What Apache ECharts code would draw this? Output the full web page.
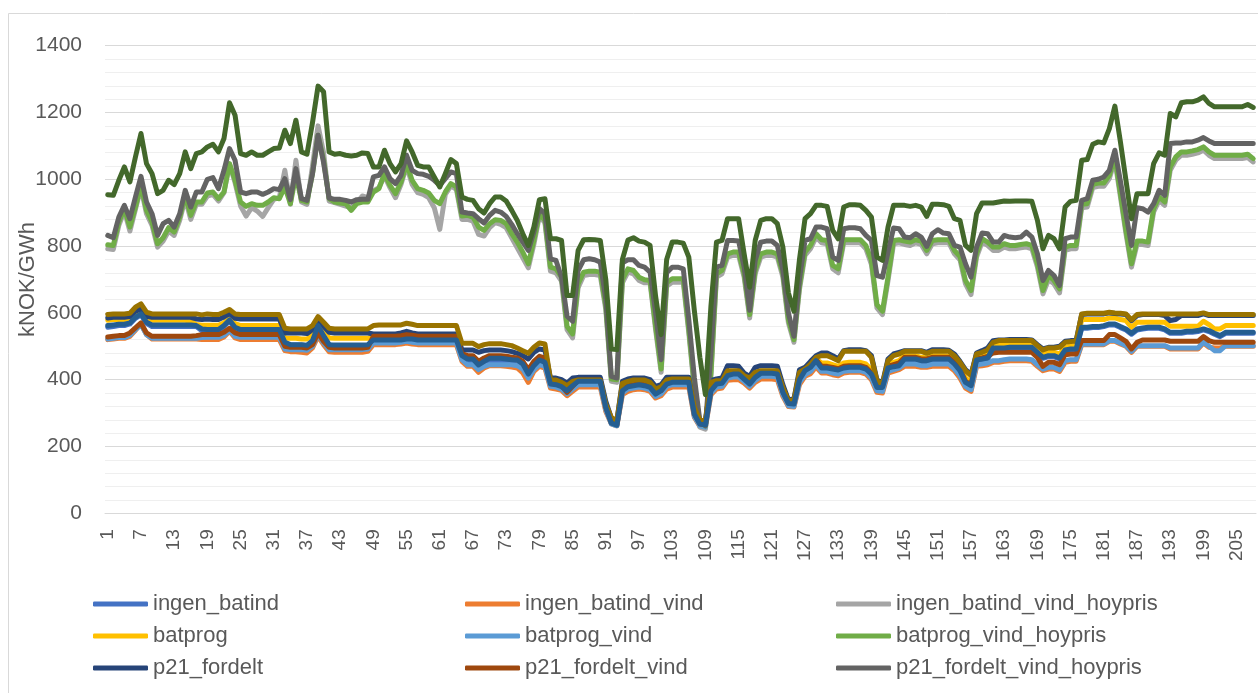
<!DOCTYPE html>
<html>
<head>
<meta charset="utf-8">
<title>kNOK/GWh</title>
<script src="https://cdn.jsdelivr.net/npm/echarts@6/dist/echarts.min.js"></script>
<style>
  html, body { margin: 0; padding: 0; background: #ffffff; }
  #chart { width: 1258px; height: 693px; }
</style>
</head>
<body>
<div id="chart"></div>
<script>
// Hour/period index 1..208
const categories = Array.from({ length: 208 }, (_, i) => String(i + 1));

const yTicks = [0, 200, 400, 600, 800, 1000, 1200, 1400];

const ingen_batind = [
  557, 559, 562, 562, 567, 584, 594, 569, 559, 559,
  559, 559, 559, 559, 559, 559, 559, 547, 544, 544,
  544, 559, 576, 554, 544, 544, 544, 544, 544, 544,
  544, 544, 509, 504, 504, 504, 502, 514, 559, 529,
  504, 502, 502, 502, 502, 502, 502, 502, 514, 514,
  514, 514, 514, 514, 519, 519, 516, 516, 516, 516,
  516, 516, 516, 516, 469, 454, 454, 439, 449, 456,
  456, 456, 456, 456, 456, 444, 414, 439, 456, 449,
  384, 382, 376, 364, 379, 392, 392, 392, 392, 392,
  314, 269, 264, 364, 376, 379, 382, 379, 374, 354,
  364, 384, 389, 389, 389, 389, 294, 264, 262, 364,
  384, 386, 409, 414, 414, 399, 384, 404, 416, 416,
  416, 414, 359, 326, 324, 397, 424, 434, 454, 432,
  432, 429, 426, 432, 434, 434, 434, 429, 414, 374,
  374, 432, 436, 439, 459, 459, 459, 454, 454, 459,
  459, 459, 459, 444, 424, 389, 379, 456, 459, 462,
  492, 492, 492, 494, 494, 494, 494, 494, 479, 464,
  469, 469, 462, 486, 489, 489, 554, 554, 556, 556,
  559, 564, 564, 556, 549, 536, 549, 552, 554, 554,
  554, 549, 539, 539, 539, 542, 542, 544, 549, 544,
  536, 529, 539, 539, 539, 539, 539, 539
];

const ingen_batind_vind = [
  520, 522, 524, 524, 530, 548, 568, 535, 522, 522,
  522, 522, 522, 522, 522, 522, 522, 520, 520, 520,
  520, 528, 545, 525, 520, 520, 520, 520, 520, 520,
  520, 520, 487, 484, 484, 482, 480, 495, 530, 505,
  484, 482, 482, 482, 482, 482, 482, 485, 505, 505,
  505, 505, 505, 507, 510, 507, 505, 505, 505, 505,
  505, 505, 505, 505, 455, 440, 440, 422, 435, 442,
  442, 442, 440, 438, 435, 420, 392, 425, 440, 435,
  375, 372, 368, 352, 365, 378, 378, 378, 378, 378,
  305, 268, 262, 355, 365, 370, 372, 370, 365, 345,
  352, 372, 378, 378, 378, 378, 288, 260, 258, 355,
  372, 375, 398, 400, 400, 390, 375, 392, 402, 402,
  402, 400, 350, 320, 318, 385, 410, 418, 438, 420,
  420, 415, 412, 420, 422, 422, 422, 417, 400, 362,
  360, 420, 425, 430, 440, 440, 440, 437, 437, 440,
  440, 440, 440, 427, 405, 375, 365, 440, 442, 445,
  452, 452, 455, 457, 457, 457, 457, 455, 440, 427,
  432, 432, 425, 452, 455, 455, 505, 505, 505, 505,
  505, 515, 515, 507, 500, 482, 500, 500, 500, 500,
  500, 500, 492, 492, 492, 492, 492, 492, 510, 497,
  495, 495, 500, 500, 500, 500, 500, 500
];

const ingen_batind_vind_hoypris = [
  792, 790, 862, 905, 845, 910, 975, 897, 862, 797,
  815, 845, 832, 877, 942, 880, 925, 925, 950, 955,
  935, 960, 1045, 990, 920, 890, 915, 905, 889, 915,
  940, 945, 1027, 925, 1057, 932, 925, 1040, 1160, 1080,
  935, 930, 925, 920, 915, 930, 950, 945, 965, 975,
  1010, 975, 945, 985, 1040, 985, 960, 955, 945, 915,
  850, 955, 980, 970, 880, 880, 875, 835, 830, 855,
  870, 865, 855, 825, 795, 765, 735, 805, 890, 870,
  725, 720, 695, 550, 525, 675, 712, 715, 715, 712,
  610, 395, 392, 690, 722, 717, 697, 690, 690, 550,
  422, 680, 692, 692, 692, 540, 370, 258, 252, 410,
  707, 717, 767, 772, 772, 707, 585, 717, 767, 772,
  772, 767, 707, 570, 512, 670, 772, 792, 827, 810,
  807, 732, 720, 810, 810, 810, 810, 792, 745, 615,
  595, 697, 807, 810, 805, 802, 810, 805, 777, 807,
  810, 810, 810, 777, 759, 687, 655, 767, 812, 802,
  787, 787, 797, 792, 792, 795, 797, 792, 737, 657,
  700, 687, 660, 787, 792, 792, 915, 917, 975, 979,
  979, 1002, 1057, 947, 837, 737, 805, 805, 802, 902,
  937, 922, 1027, 1057, 1072, 1072, 1075, 1079, 1087, 1072,
  1062, 1062, 1062, 1062, 1062, 1062, 1065, 1052
];

const batprog = [
  578, 580, 580, 580, 583, 600, 610, 585, 578, 578,
  578, 578, 578, 578, 578, 575, 565, 563, 563, 563,
  563, 570, 587, 568, 562, 562, 562, 562, 562, 562,
  562, 562, 524, 524, 524, 522, 522, 532, 570, 545,
  525, 524, 524, 524, 524, 524, 524, 524, 527, 527,
  527, 527, 527, 527, 530, 527, 525, 525, 525, 525,
  525, 525, 525, 525, 475, 465, 465, 447, 460, 467,
  467, 467, 465, 462, 460, 452, 425, 450, 467, 462,
  392, 392, 385, 372, 388, 398, 398, 398, 398, 398,
  322, 280, 272, 372, 385, 390, 392, 390, 385, 365,
  372, 392, 397, 397, 397, 397, 305, 275, 272, 375,
  392, 395, 420, 422, 422, 407, 395, 412, 425, 425,
  425, 422, 370, 335, 335, 410, 430, 442, 462, 450,
  450, 445, 440, 450, 452, 452, 452, 447, 430, 385,
  382, 447, 452, 457, 472, 472, 472, 467, 465, 472,
  472, 472, 470, 460, 440, 405, 392, 467, 472, 477,
  505, 505, 505, 507, 507, 507, 507, 507, 492, 477,
  482, 482, 477, 497, 500, 500, 580, 580, 580, 580,
  580, 585, 585, 580, 577, 557, 572, 572, 572, 572,
  572, 572, 560, 560, 560, 560, 560, 560, 575, 565,
  552, 552, 562, 562, 562, 562, 562, 562
];

const batprog_vind = [
  522, 524, 526, 526, 533, 550, 565, 535, 524, 524,
  524, 524, 524, 524, 524, 524, 524, 526, 527, 527,
  527, 533, 547, 530, 527, 527, 527, 527, 527, 527,
  527, 527, 492, 490, 490, 490, 488, 500, 535, 510,
  490, 490, 490, 490, 490, 490, 490, 492, 510, 510,
  510, 510, 510, 512, 515, 512, 510, 510, 510, 510,
  510, 510, 510, 510, 460, 445, 445, 430, 440, 445,
  445, 445, 445, 445, 442, 432, 405, 430, 445, 440,
  380, 378, 372, 358, 372, 385, 385, 385, 385, 385,
  310, 268, 262, 360, 372, 375, 378, 375, 370, 350,
  358, 380, 385, 385, 385, 385, 290, 262, 258, 360,
  378, 380, 405, 408, 408, 395, 380, 398, 410, 410,
  410, 408, 355, 322, 320, 392, 415, 425, 445, 425,
  425, 420, 417, 425, 427, 427, 427, 422, 405, 367,
  365, 425, 430, 435, 447, 447, 447, 442, 442, 447,
  447, 447, 447, 432, 412, 380, 370, 445, 447, 450,
  457, 457, 460, 462, 462, 462, 462, 460, 445, 432,
  437, 437, 430, 457, 460, 460, 507, 507, 507, 507,
  507, 517, 517, 510, 502, 485, 502, 502, 502, 502,
  502, 502, 495, 495, 495, 495, 495, 495, 512, 500,
  487, 487, 502, 502, 502, 502, 502, 502
];

const batprog_vind_hoypris = [
  804, 802, 872, 912, 857, 917, 982, 907, 872, 807,
  825, 855, 842, 887, 952, 892, 932, 932, 959, 962,
  942, 962, 1047, 997, 932, 919, 927, 922, 922, 932,
  945, 942, 977, 927, 1012, 937, 932, 1017, 1132, 1057,
  942, 932, 929, 927, 907, 927, 932, 932, 962, 972,
  1017, 982, 957, 992, 1047, 997, 972, 967, 959, 937,
  927, 962, 987, 977, 890, 892, 887, 857, 847, 867,
  879, 877, 867, 837, 812, 782, 747, 817, 897, 877,
  737, 732, 707, 560, 537, 687, 722, 725, 725, 722,
  620, 402, 400, 700, 732, 727, 707, 699, 697, 560,
  432, 690, 702, 702, 702, 550, 380, 270, 262, 420,
  717, 727, 777, 782, 782, 717, 595, 727, 777, 782,
  782, 777, 717, 580, 520, 680, 782, 802, 837, 819,
  817, 742, 732, 819, 819, 819, 819, 802, 757, 625,
  605, 707, 817, 819, 815, 812, 819, 815, 787, 817,
  819, 819, 819, 787, 769, 697, 667, 777, 822, 812,
  797, 797, 807, 802, 802, 805, 807, 802, 747, 667,
  712, 697, 672, 797, 802, 802, 925, 927, 985, 989,
  989, 1012, 1067, 957, 847, 747, 815, 815, 812, 912,
  947, 932, 1037, 1067, 1082, 1082, 1085, 1089, 1097, 1082,
  1072, 1072, 1072, 1072, 1072, 1072, 1075, 1062
];

const p21_fordelt = [
  585, 587, 587, 587, 589, 605, 612, 590, 587, 587,
  587, 587, 587, 587, 587, 587, 582, 580, 582, 580,
  580, 588, 598, 584, 582, 582, 582, 582, 582, 582,
  582, 582, 540, 540, 540, 540, 538, 550, 580, 560,
  542, 540, 540, 540, 540, 540, 540, 540, 537, 537,
  537, 537, 537, 540, 545, 540, 537, 537, 537, 537,
  537, 537, 537, 537, 490, 489, 489, 482, 487, 489,
  489, 489, 487, 484, 479, 472, 462, 482, 492, 489,
  405, 405, 400, 390, 405, 407, 407, 407, 407, 407,
  335, 285, 277, 395, 402, 405, 405, 405, 400, 380,
  385, 407, 407, 407, 407, 407, 320, 280, 275, 398,
  402, 405, 442, 442, 440, 420, 410, 437, 442, 442,
  442, 440, 385, 340, 342, 430, 437, 455, 472, 480,
  480, 472, 462, 487, 490, 490, 490, 487, 472, 400,
  390, 462, 477, 482, 487, 487, 487, 487, 482, 490,
  490, 490, 488, 477, 455, 430, 415, 480, 487, 495,
  517, 519, 519, 520, 520, 520, 520, 519, 505, 492,
  497, 497, 500, 515, 517, 517, 595, 597, 597, 597,
  597, 600, 598, 597, 595, 577, 592, 595, 595, 595,
  595, 592, 577, 580, 592, 592, 592, 592, 597, 592,
  592, 592, 592, 592, 592, 592, 592, 592
];

const p21_fordelt_vind = [
  528, 530, 532, 532, 540, 555, 570, 540, 530, 530,
  530, 530, 530, 530, 530, 530, 532, 535, 535, 535,
  535, 542, 554, 540, 535, 535, 535, 535, 535, 535,
  535, 535, 500, 497, 497, 497, 495, 505, 540, 515,
  497, 495, 495, 495, 495, 495, 495, 497, 530, 530,
  530, 530, 530, 532, 535, 533, 530, 530, 530, 530,
  530, 530, 530, 530, 478, 472, 472, 455, 465, 472,
  472, 472, 470, 467, 465, 455, 430, 455, 470, 465,
  392, 390, 382, 362, 380, 398, 398, 398, 398, 398,
  318, 272, 267, 370, 382, 385, 388, 385, 380, 360,
  368, 390, 395, 395, 395, 395, 298, 268, 265, 370,
  390, 392, 420, 420, 420, 405, 390, 410, 422, 422,
  422, 420, 365, 330, 330, 405, 432, 440, 460, 440,
  440, 437, 433, 440, 442, 442, 442, 437, 420, 380,
  380, 440, 445, 450, 467, 467, 467, 462, 462, 467,
  467, 467, 467, 452, 432, 395, 385, 462, 465, 470,
  480, 482, 482, 482, 482, 482, 482, 482, 467, 440,
  452, 452, 445, 475, 477, 477, 517, 517, 517, 517,
  517, 535, 535, 525, 515, 492, 512, 519, 519, 519,
  519, 519, 515, 515, 515, 515, 515, 515, 529, 517,
  512, 512, 512, 512, 512, 512, 512, 512
];

const p21_fordelt_vind_hoypris = [
  832, 825, 887, 922, 882, 947, 1009, 932, 897, 832,
  867, 877, 857, 897, 967, 917, 962, 962, 1000, 1005,
  972, 1027, 1092, 1057, 962, 957, 962, 962, 955, 962,
  972, 969, 1002, 939, 1032, 942, 937, 1017, 1132, 1050,
  944, 940, 940, 937, 932, 939, 940, 940, 1007, 1012,
  1037, 1002, 987, 1012, 1072, 1027, 1017, 1015, 1009, 997,
  982, 1002, 1022, 1017, 902, 899, 897, 882, 869, 892,
  907, 902, 889, 865, 837, 812, 787, 842, 912, 897,
  762, 757, 707, 590, 575, 727, 759, 762, 759, 752,
  640, 410, 405, 750, 759, 759, 742, 737, 722, 600,
  460, 720, 737, 737, 732, 580, 407, 277, 262, 480,
  737, 742, 817, 817, 815, 737, 608, 757, 812, 815,
  815, 802, 727, 600, 530, 700, 817, 822, 857, 857,
  852, 767, 757, 852, 855, 855, 852, 832, 817, 712,
  707, 782, 854, 852, 827, 825, 837, 827, 799, 837,
  849, 839, 837, 802, 797, 747, 707, 797, 839, 837,
  812, 812, 832, 827, 825, 827, 842, 827, 777, 697,
  727, 712, 682, 822, 827, 827, 937, 942, 997, 1000,
  1007, 1027, 1087, 994, 897, 802, 915, 912, 902, 927,
  967, 952, 1107, 1109, 1109, 1112, 1112, 1117, 1125, 1115,
  1107, 1107, 1107, 1107, 1107, 1107, 1107, 1107
];

const alt_base = [
  595, 597, 597, 597, 599, 617, 627, 602, 597, 597,
  597, 597, 597, 597, 597, 597, 597, 594, 597, 595,
  595, 602, 610, 597, 595, 595, 595, 595, 595, 595,
  595, 595, 554, 552, 552, 552, 552, 562, 589, 572,
  554, 552, 552, 552, 552, 552, 552, 552, 562, 564,
  564, 564, 564, 564, 569, 566, 562, 562, 562, 562,
  562, 562, 562, 562, 509, 509, 509, 499, 505, 508,
  508, 508, 505, 502, 495, 487, 479, 497, 510, 507,
  400, 399, 392, 382, 395, 399, 399, 399, 399, 399,
  327, 287, 277, 389, 395, 399, 399, 399, 392, 372,
  379, 399, 402, 402, 402, 402, 317, 279, 277, 392,
  397, 397, 427, 427, 427, 412, 405, 422, 427, 427,
  427, 427, 377, 337, 339, 422, 432, 447, 467, 472,
  472, 465, 457, 485, 485, 485, 485, 485, 467, 397,
  387, 457, 472, 477, 485, 485, 485, 485, 479, 485,
  485, 485, 485, 472, 452, 427, 412, 477, 482, 489,
  512, 517, 517, 517, 517, 517, 517, 517, 502, 489,
  495, 495, 497, 512, 514, 515, 597, 599, 599, 599,
  599, 602, 600, 599, 597, 579, 595, 597, 597, 597,
  597, 597, 597, 597, 597, 597, 597, 597, 600, 595,
  595, 595, 595, 595, 595, 595, 595, 595
];

const alt_vind = [
  562, 564, 566, 566, 570, 587, 597, 572, 564, 564,
  564, 564, 564, 564, 564, 564, 562, 552, 550, 550,
  550, 562, 579, 557, 550, 550, 550, 550, 550, 550,
  550, 550, 512, 505, 505, 505, 503, 517, 562, 532,
  505, 504, 504, 504, 504, 504, 504, 505, 519, 519,
  519, 519, 519, 519, 522, 522, 519, 519, 519, 519,
  519, 519, 519, 519, 472, 462, 462, 444, 455, 464,
  464, 464, 462, 460, 459, 447, 417, 442, 459, 452,
  387, 385, 379, 367, 382, 395, 395, 395, 395, 395,
  317, 270, 264, 367, 379, 382, 385, 382, 377, 357,
  367, 387, 392, 392, 392, 392, 297, 267, 265, 367,
  387, 389, 412, 417, 417, 402, 387, 407, 419, 419,
  419, 417, 362, 329, 327, 400, 427, 437, 457, 435,
  435, 432, 429, 435, 437, 437, 437, 432, 417, 377,
  377, 435, 439, 442, 462, 462, 462, 457, 457, 462,
  462, 462, 462, 447, 427, 392, 382, 459, 462, 465,
  495, 495, 495, 497, 497, 497, 497, 497, 482, 467,
  472, 472, 465, 489, 492, 492, 557, 557, 559, 559,
  562, 567, 567, 559, 552, 539, 552, 555, 557, 557,
  557, 552, 542, 542, 542, 545, 545, 547, 552, 547,
  539, 532, 542, 542, 542, 542, 542, 542
];

const alt_vind_hoypris = [
  954, 952, 997, 1037, 992, 1067, 1137, 1047, 1017, 957,
  967, 997, 984, 1017, 1082, 1032, 1077, 1082, 1097, 1105,
  1082, 1122, 1229, 1192, 1077, 1072, 1082, 1072, 1072, 1082,
  1092, 1094, 1147, 1107, 1177, 1082, 1075, 1170, 1279, 1262,
  1082, 1075, 1077, 1072, 1070, 1072, 1079, 1077, 1037, 1037,
  1087, 1047, 1022, 1047, 1115, 1082, 1042, 1037, 1037, 1007,
  977, 1017, 1059, 1047, 947, 940, 937, 912, 899, 927,
  947, 947, 935, 907, 877, 837, 802, 857, 939, 942,
  822, 822, 817, 652, 652, 787, 819, 820, 819, 817,
  700, 492, 490, 760, 818, 825, 815, 812, 802, 650,
  535, 760, 812, 812, 809, 767, 607, 467, 355, 620,
  812, 817, 882, 882, 882, 777, 677, 817, 877, 882,
  882, 867, 797, 660, 605, 760, 882, 897, 922, 922,
  919, 847, 822, 917, 924, 924, 922, 907, 887, 767,
  757, 857, 922, 922, 922, 919, 922, 917, 889, 925,
  925, 924, 919, 882, 877, 802, 787, 897, 929, 929,
  929, 932, 935, 934, 935, 935, 935, 934, 877, 792,
  832, 822, 792, 917, 934, 937, 1057, 1059, 1105, 1112,
  1109, 1152, 1219, 1112, 997, 882, 957, 957, 957, 1047,
  1079, 1072, 1197, 1187, 1229, 1232, 1232, 1237, 1247, 1227,
  1217, 1217, 1217, 1217, 1217, 1217, 1224, 1215
];

// series in drawing order (later ones paint on top)
const seriesDefs = [
  { name: 'ingen_batind', data: ingen_batind, color: '#4472C4' },
  { name: 'ingen_batind_vind', data: ingen_batind_vind, color: '#ED7D31' },
  { name: 'ingen_batind_vind_hoypris', data: ingen_batind_vind_hoypris, color: '#A5A5A5' },
  { name: 'batprog', data: batprog, color: '#FFC000' },
  { name: 'batprog_vind', data: batprog_vind, color: '#5B9BD5' },
  { name: 'batprog_vind_hoypris', data: batprog_vind_hoypris, color: '#70AD47' },
  { name: 'p21_fordelt', data: p21_fordelt, color: '#264478' },
  { name: 'p21_fordelt_vind', data: p21_fordelt_vind, color: '#9E480E' },
  { name: 'p21_fordelt_vind_hoypris', data: p21_fordelt_vind_hoypris, color: '#636363' },
  { name: 'alt_base', data: alt_base, color: '#997300' },
  { name: 'alt_vind', data: alt_vind, color: '#255E91' },
  { name: 'alt_vind_hoypris', data: alt_vind_hoypris, color: '#43682B' }
];

const FONT = '"Liberation Sans", Arial, sans-serif';
const TEXT = '#595959';

function legendColumn(names, left) {
  return {
    orient: 'vertical',
    left: left,
    top: 593,
    padding: 0,
    itemGap: 10,
    itemWidth: 55,
    itemHeight: 5,
    icon: 'roundRect',
    data: names,
    selectedMode: false,
    textStyle: { fontFamily: FONT, fontSize: 22, color: TEXT, lineHeight: 22 }
  };
}

const chart = echarts.init(document.getElementById('chart'), null, { renderer: 'canvas' });

chart.setOption({
  animation: false,
  backgroundColor: '#ffffff',
  graphic: [{
    type: 'rect',
    shape: { x: 8.5, y: 13.5, width: 1270, height: 720 },
    style: { fill: null, stroke: '#d9d9d9', lineWidth: 1 },
    silent: true,
    z: -10
  }],
  grid: {
    left: 105, right: 2, top: 45.7, bottom: 179.7,
    containLabel: false,
    outerBoundsMode: 'none'
  },
  legend: [
    legendColumn(['ingen_batind', 'batprog', 'p21_fordelt'], 93),
    legendColumn(['ingen_batind_vind', 'batprog_vind', 'p21_fordelt_vind'], 465),
    legendColumn(['ingen_batind_vind_hoypris', 'batprog_vind_hoypris', 'p21_fordelt_vind_hoypris'], 836)
  ],
  xAxis: {
    type: 'category',
    data: categories,
    boundaryGap: true,
    axisLine: { show: true, lineStyle: { color: '#d9d9d9', width: 1 } },
    axisTick: { show: false },
    axisLabel: {
      interval: 5,
      rotate: 90,
      margin: 16,
      fontFamily: FONT,
      fontSize: 19,
      color: TEXT
    },
    splitLine: { show: false }
  },
  yAxis: {
    type: 'value',
    min: yTicks[0],
    max: yTicks[yTicks.length - 1],
    interval: 200,
    name: 'kNOK/GWh',
    nameLocation: 'middle',
    nameGap: 66,
    nameRotate: 90,
    nameMoveOverlap: false,
    nameTextStyle: { fontFamily: FONT, fontSize: 22, color: TEXT },
    axisLine: { show: false },
    axisTick: { show: false },
    axisLabel: {
      margin: 23,
      fontFamily: FONT,
      fontSize: 21,
      color: TEXT,
      formatter: v => String(v)
    },
    splitLine: { show: true, lineStyle: { color: '#d9d9d9', width: 1.2 } },
    minorTick: { show: false, splitNumber: 5 },
    minorSplitLine: { show: true, lineStyle: { color: '#efefef', width: 1.2 } }
  },
  series: seriesDefs.map(s => ({
    name: s.name,
    type: 'line',
    data: s.data,
    symbol: 'none',
    showSymbol: false,
    smooth: false,
    color: s.color,
    lineStyle: { color: s.color, width: 5, cap: 'round', join: 'round' },
    emphasis: { disabled: true }
  }))
});
</script>
</body>
</html>
